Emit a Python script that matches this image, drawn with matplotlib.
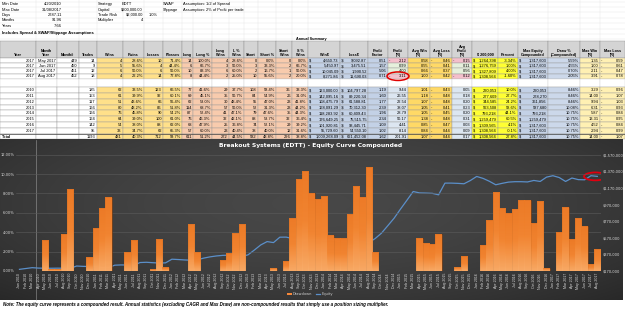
import numpy as np
import matplotlib
matplotlib.use("Agg")
import matplotlib.pyplot as plt
from matplotlib.patches import Rectangle, Ellipse, Patch
from matplotlib.lines import Line2D
from matplotlib.colors import LinearSegmentedColormap
import matplotlib.ticker as mticker
import pandas as pd

# ---------------- data ----------------
info_left = [("Min Date", "4/20/2010"), ("Max Date", "31/08/2017"), ("Days", "2787.11"),
             ("Months", "91.96"), ("Years", "7.66")]
info_mid = [("Strategy", "EDTT"), ("Capital", "$200,000.00"), ("Trade Risk", "$2,000.00"),
            ("Multiplier", "4")]
info_right = [("SWAP", "Assumption: 1/2 of Spread"), ("Slippage", "Assumption: 2% of Profit per trade")]

headers = ["Year", "Month\nYear", "Month#", "Trades", "Wins", "Pwins", "Losses", "Plosses",
           "Long", "Long %", "Long\nWins", "L %\nWins", "Short", "Short %", "Short\nWins",
           "S %\nWins", "Win$", "Loss$", "Profit\nFactor", "Profit\n(R)", "Avg Win\n(R)",
           "Avg Loss\n(R)", "Avg\nProfit\n(R)", "$ 200,000", "Percent", "Max Equity\nCompounded",
           "Draw %\n(Compounded)", "Max Win\n(R)", "Max Loss\n(R)"]

monthly_rows = [
    ["2017", "May 2017", "449", "14", "4", "28.6%", "10", "71.4%", "14", "100.0%", "4", "28.6%", "0", "0.0%", "0", "0.0%",
     "$|4,650.73", "-$|9,092.87", "0.51", "-|2.12", "0.58", "-|0.46", "-|0.15", "$|1,264,398", "-3.34%", "$|1,317,603", "5.59%", "1.35", "-|0.59"],
    ["2017", "Jun 2017", "450", "9", "5", "55.6%", "4", "44.4%", "6", "66.7%", "3", "50.0%", "3", "33.3%", "2", "66.7%",
     "$|5,450.97", "-$|3,475.51", "1.57", "0.99", "0.55", "-|0.41", "0.11", "$|1,276,759", "1.00%", "$|1,317,603", "4.55%", "1.00", "-|0.61"],
    ["2017", "Jul 2017", "451", "12", "6", "50.0%", "6", "50.0%", "10", "83.3%", "6", "60.0%", "2", "16.7%", "1", "50.0%",
     "$|10,045.09", "-$|1,990.52", "5.06", "4.00", "0.66", "-|0.37", "0.56", "$|1,327,809", "4.00%", "$|1,317,603", "0.70%", "2.11", "-|0.47"],
    ["2017", "Aug 2017", "452", "18", "4", "22.2%", "14", "77.8%", "8", "44.4%", "2", "25.0%", "10", "55.6%", "2", "20.0%",
     "$|8,271.86", "-$|11,690.03", "0.71", "-|3.11", "1.00", "-|0.42", "-|0.12", "$|1,308,564", "-1.60%", "$|1,317,603", "2.05%", "3.91", "-|0.78"],
]

annual_rows = [
    ["2010", "", "", "185", "62", "33.5%", "123", "66.5%", "77", "41.6%", "29", "37.7%", "108", "58.4%", "36", "33.3%",
     "$|123,000.00", "-$|104,797.28", "1.19", "9.44", "1.01", "-|0.43", "0.05", "$|220,053", "10.0%", "$|220,053", "8.46%", "3.29", "-|0.96"],
    ["2011", "", "", "153", "61", "39.9%", "92", "60.1%", "69", "45.1%", "35", "50.7%", "84", "54.9%", "26", "31.0%",
     "$|142,095.16", "-$|89,220.34", "1.60", "26.55", "1.18", "-|0.48", "0.18", "$|277,609", "27.7%", "$|278,270", "8.46%", "14.00", "-|1.07"],
    ["2012", "", "", "117", "51", "43.6%", "66", "56.4%", "62", "53.0%", "30", "48.4%", "55", "47.0%", "23", "41.8%",
     "$|108,475.79", "-$|61,588.81", "1.77", "22.54", "1.07", "-|0.48", "0.20", "$|344,585", "24.2%", "$|361,856", "8.46%", "9.94", "-|1.03"],
    ["2013", "", "", "166", "80", "48.2%", "86", "51.8%", "114", "68.7%", "57", "50.0%", "52", "31.3%", "23", "44.2%",
     "$|168,091.29", "-$|70,312.30", "2.39", "38.07", "1.05", "-|0.41", "0.23", "$|563,508", "58.6%", "$|587,680", "10.08%", "6.31", "-|0.93"],
    ["2014", "", "", "166", "76", "45.8%", "90", "54.2%", "87", "52.4%", "41", "47.1%", "79", "47.6%", "35", "44.3%",
     "$|118,283.92", "-$|60,409.43", "1.96", "28.79", "1.05", "-|0.45", "0.20", "$|793,218", "44.1%", "$|793,218", "10.75%", "5.87", "-|0.84"],
    ["2015", "", "", "164", "64", "39.0%", "100", "61.0%", "76", "46.3%", "32", "42.1%", "88", "53.7%", "32", "36.4%",
     "$|176,649.25", "-$|75,515.75", "2.34", "50.17", "1.38", "-|0.48", "0.31", "$|1,259,479", "60.5%", "$|1,259,479", "10.75%", "13.31", "-|0.95"],
    ["2016", "", "", "142", "54", "38.0%", "88", "62.0%", "68", "47.9%", "25", "36.8%", "74", "52.1%", "29", "39.2%",
     "$|101,920.81", "-$|93,445.71", "1.09", "4.41", "0.85", "-|0.47", "0.03", "$|1,309,565", "4.1%", "$|1,317,603", "10.75%", "4.52", "-|0.84"],
    ["2017", "", "", "95", "33", "34.7%", "62", "65.3%", "57", "60.0%", "23", "40.4%", "38", "40.0%", "12", "31.6%",
     "$|55,729.60", "-$|54,550.10", "1.02", "8.14", "0.84", "-|0.44", "0.09", "$|1,308,564", "-0.1%", "$|1,317,603", "10.75%", "2.94", "-|0.99"],
]
total_row = ["Total", "", "", "1193", "481", "40.3%", "712", "59.7%", "611", "51.2%", "272", "44.5%", "582", "48.8%", "226", "38.8%",
             "$|1,009,268.09", "-$|621,452.08", "1.62", "201.91", "1.07", "-|0.44", "0.17", "$|1,308,564", "27.8%", "$|1,317,603", "10.75%", "14.00", "-|1.07"]

# monthly chart series, Jan 2010 .. Aug 2017
months = pd.date_range("2010-01-01", periods=92, freq="MS").strftime("%b %Y").tolist()
drawdown_pct = [0.0, 0.0, 0.0, 0.0, 3.2, 0.2, 0.2, 3.8, 8.45, 0.0,
                0.0, 1.4, 4.4, 6.5, 7.6, 0.0, 0.0, 2.0, 3.2, 0.0,
                0.0, 0.2, 3.3, 0.4, 0.0, 0.0, 0.0, 4.9, 2.0, 0.0,
                0.0, 0.0, 1.15, 1.9, 3.95, 4.85, 0.0, 0.0, 0.0, 0.0,
                0.35, 0.0, 1.0, 5.5, 9.45, 10.3, 8.0, 7.4, 7.7, 3.7,
                3.45, 3.45, 5.9, 8.75, 7.65, 10.7, 2.0, 0.0, 0.0, 0.0,
                0.0, 0.0, 0.0, 3.4, 2.85, 2.75, 3.8, 0.0, 0.05, 0.45,
                1.5, 0.0, 0.0, 2.7, 5.3, 8.1, 6.5, 6.0, 6.4, 7.3,
                7.3, 5.0, 7.2, 0.35, 0.0, 4.0, 6.6, 3.3, 5.5, 4.6,
                0.7, 2.3]
equity = [190000, 200000, 210000, 205000, 203000, 203000, 204000, 203000, 202000, 230000,
          226000, 224000, 221000, 212000, 210000, 240000, 243000, 242000, 240000, 272000,
          275000, 270000, 266000, 268000, 312000, 308000, 303000, 300000, 305000, 325000,
          340000, 351000, 358000, 360000, 345000, 343000, 365000, 423000, 484000, 524000,
          512000, 577000, 578000, 560000, 545000, 540000, 545000, 548000, 546000, 547000,
          530000, 525000, 524000, 520000, 525000, 512000, 560000, 625000, 715000, 806000,
          915000, 1020000, 1127000, 1110000, 1108000, 1105000, 1087000, 1228000, 1228000, 1225000,
          1220000, 1259000, 1308000, 1285000, 1250000, 1208000, 1225000, 1240000, 1245000, 1245000,
          1242000, 1260000, 1248000, 1300000, 1317000, 1295000, 1248000, 1289000, 1270000, 1268000,
          1317000, 1309000]

title = "Breakout Systems (EDTT) - Equity Curve Compounded"
note = ("Note: The equity curve represents a compounded result. Annual statistics (excluding CAGR and Max Draw) "
        "are non-compounded results that simply use a position sizing multiplier.")

# ---------------- layout ----------------
W, H = 625, 309
FONT = "Liberation Sans"
fig = plt.figure(figsize=(6.25, 3.09), dpi=100)
fig.patch.set_facecolor("white")
bg = fig.add_axes([0, 0, 1, 1])
bg.set_xlim(0, W)
bg.set_ylim(H, 0)
bg.axis("off")

col_x = [0, 36, 56.5, 79, 96.5, 123, 144, 163, 182, 193, 212, 229, 244, 258, 276, 292, 308,
         340, 368, 388, 408, 430, 452, 472, 498, 518, 548, 580, 600, 625]
YEL, PEACH, BLUE, GOLD, BRIGHT, LBLUE, PINK, GREEN, PALE = (
    "#FFE08A", "#F8CBAD", "#C3D1E6", "#FFD966", "#FFFF33", "#DCE6F1", "#F4BFCB", "#E6F0DC", "#FFF0B3")
col_colors = ["white"] * 4 + [YEL] * 4 + [PEACH] * 8 + [BLUE] * 3 + [None, GOLD, GOLD, None,
              BRIGHT, BRIGHT, BLUE, "#CCD8EA", PALE, PALE]

# faint gridlines for the info block
for y in np.arange(1.5, 41, 5.4):
    bg.plot([0, W], [y, y], color="#E3E3E3", lw=0.3, zorder=0)
for x in col_x[1:-1]:
    bg.plot([x, x], [0, 41], color="#E3E3E3", lw=0.3, zorder=0)

fs = 2.9
for k, (a, b) in enumerate(info_left):
    y = 4.2 + 5.4 * k
    bg.text(2, y, a, fontsize=fs, family=FONT, va="center")
    bg.text(62, y, b, fontsize=fs, family=FONT, va="center", ha="right")
for k, (a, b) in enumerate(info_mid):
    y = 4.2 + 5.4 * k
    bg.text(98, y, a, fontsize=fs, family=FONT, va="center")
    if k == 0:
        bg.text(122, y, b, fontsize=fs, family=FONT, va="center")
    else:
        bg.text(143, y, b, fontsize=fs, family=FONT, va="center", ha="right")
bg.text(158, 4.2 + 5.4 * 2, "1.0%", fontsize=fs, family=FONT, va="center", ha="right")
for k, (a, b) in enumerate(info_right):
    y = 4.2 + 5.4 * k
    bg.text(163, y, a, fontsize=fs, family=FONT, va="center")
    bg.text(183, y, b, fontsize=fs, family=FONT, va="center")
bg.text(2, 33.3, "Includes Spread & SWAP/Slippage Assumptions", fontsize=2.9, family=FONT,
        weight="bold", va="center")
bg.text(311, 38.6, "Annual Summary", fontsize=2.7, family=FONT, weight="bold", va="center", ha="center")

# header
HT, HB = 41, 58
for c in range(29):
    bg.add_patch(Rectangle((col_x[c], HT), col_x[c + 1] - col_x[c], HB - HT,
                           facecolor="#D4D4D4", edgecolor="#8C8C8C", lw=0.3))
    bg.text((col_x[c] + col_x[c + 1]) / 2, HB - 1.2, headers[c], fontsize=2.7, family=FONT,
            weight="bold", ha="center", va="bottom", linespacing=1.0)


def draw_row(vals, top, h, kind):
    for c in range(29):
        x0, x1 = col_x[c], col_x[c + 1]
        col = col_colors[c]
        v = vals[c]
        if col is None:
            if kind == "month":
                col = PINK if v.startswith("-") else GREEN
            else:
                col = LBLUE
        bg.add_patch(Rectangle((x0, top), x1 - x0, h, facecolor=col, edgecolor="#9A9A9A", lw=0.3))
        yc = top + h / 2 + 0.2
        if c == 0 and v == "Total":
            bg.text(x0 + 1.5, yc, v, fontsize=2.9, family=FONT, weight="bold", va="center")
        elif "|" in v:
            pre, num = v.split("|")
            bg.text(x0 + 1.2, yc, pre, fontsize=2.9, family=FONT, va="center", ha="left")
            bg.text(x1 - 1.2, yc, num, fontsize=2.9, family=FONT, va="center", ha="right")
        elif v:
            bg.text(x1 - 1.2, yc, v, fontsize=2.9, family=FONT, va="center", ha="right")


row_tops = [58, 63.2, 68.4, 73.6]
for r, vals in enumerate(monthly_rows):
    draw_row(vals, row_tops[r], 5.2, "month")
# blank row
for c in range(29):
    bg.add_patch(Rectangle((col_x[c], 78.8), col_x[c + 1] - col_x[c], 8.4, facecolor="white",
                           edgecolor="#D0D0D0", lw=0.3))
for r, vals in enumerate(annual_rows):
    draw_row(vals, 87.2 + 5.8 * r, 5.8, "year")
draw_row(total_row, 87.2 + 5.8 * 8, 5.8, "year")
bg.plot([0, W], [87.2 + 5.8 * 8, 87.2 + 5.8 * 8], color="#444444", lw=0.5)

# red ellipse around Aug Profit (R)
bg.add_patch(Ellipse((398, 76.2), 22, 8.5, fill=False, edgecolor="#E00000", lw=1.1, zorder=5))

# ---------------- chart background ----------------
CT, CB = 139.5, 300
gy, gx = np.mgrid[0:1:200j, 0:1:400j]
r = np.sqrt(((gx - 0.5) / 0.8) ** 2 + ((gy - 0.4) / 0.95) ** 2)
shade = np.clip(0.28 - 0.15 * r ** 1.8, 0.10, 0.3)
img = np.dstack([shade, shade, shade])
bg.imshow(img, extent=(0, 623, CB, CT), aspect="auto", zorder=1, interpolation="bilinear")
bg.plot([36, 36], [CT, CB], color="#BBBBBB", lw=0.5, alpha=0.6, zorder=2)
bg.text(311, 146, title, fontsize=4.3, color="white", weight="bold", ha="center", va="center",
        family="DejaVu Sans", zorder=3)
bg.text(3, 304.5, note, fontsize=3.25, style="italic", weight="bold", va="center", family=FONT)

# ---------------- chart axes ----------------
PL, PR, PT, PB = 16.3, 600.5, 154.7, 271
ax = fig.add_axes([PL / W, (H - PB) / H, (PR - PL) / W, (PB - PT) / H])
ax2 = ax.twinx()
ax.set_zorder(ax2.get_zorder() + 1)
ax.patch.set_visible(False)

x = np.arange(len(months))
bars = ax.bar(x, drawdown_pct, width=1.0, color="#F7883A", edgecolor="#4A2408", linewidth=0.4,
              alpha=0.9, zorder=3)
# vertical orange gradient inside each bar
bar_cmap = LinearSegmentedColormap.from_list("barg", ["#FBAE6A", "#F38530", "#EE7A25"])
grad = np.linspace(0, 1, 64).reshape(-1, 1)
for b in bars:
    hgt = b.get_height()
    if hgt <= 0:
        continue
    x0 = b.get_x()
    im = ax.imshow(grad, cmap=bar_cmap, extent=(x0, x0 + b.get_width(), 0, hgt), origin="lower",
                   aspect="auto", zorder=3.5, alpha=0.9, interpolation="bilinear")
    im.set_clip_path(b)
ax2.plot(x, equity, color="#5B8FC9", lw=0.9, zorder=2)

ax.set_xlim(-0.5, len(months) - 0.5)
ax.set_ylim(0, 12)
ax.set_aspect("auto")
ax2.set_ylim(170000, 1570000)
ax.set_yticks(np.arange(0, 12.01, 2))
ax.yaxis.set_major_formatter(mticker.FuncFormatter(lambda v, p: f"{v:.2f}%"))
ax2.set_yticks(np.arange(170000, 1570001, 200000))
ax2.yaxis.set_major_formatter(mticker.FuncFormatter(lambda v, p: f"${v:,.0f}"))
ax.set_xticks(x)
ax.set_xticklabels(months, rotation=90, fontsize=2.6, color="#D8D8D8", family=FONT)
for a in (ax, ax2):
    a.tick_params(length=0, pad=1.5, labelsize=2.6, labelcolor="#D8D8D8")
    for s in a.spines.values():
        s.set_visible(False)
ax.grid(axis="y", color="#5C5C5C", lw=0.4, zorder=0)
ax.set_axisbelow(True)

# red ellipse around the last equity point
ax2.add_patch(Ellipse((x[-1] - 0.3, equity[-1]), 3.6, 95000, fill=False, edgecolor="#E00010",
                      lw=1.3, zorder=6))

handles = [Patch(facecolor="#F7883A", edgecolor="none", label="Drawdown"),
           Line2D([0], [0], color="#5B8FC9", lw=0.9, label="Equity")]
fig.legend(handles=handles, loc="center", bbox_to_anchor=(310 / W, 1 - 294 / H), ncol=2,
           frameon=False, fontsize=2.6, labelcolor="#CCCCCC", handlelength=1.2,
           handleheight=0.6, columnspacing=1.0, handletextpad=0.3)

fig.savefig("out.png", dpi=100, facecolor="white")
